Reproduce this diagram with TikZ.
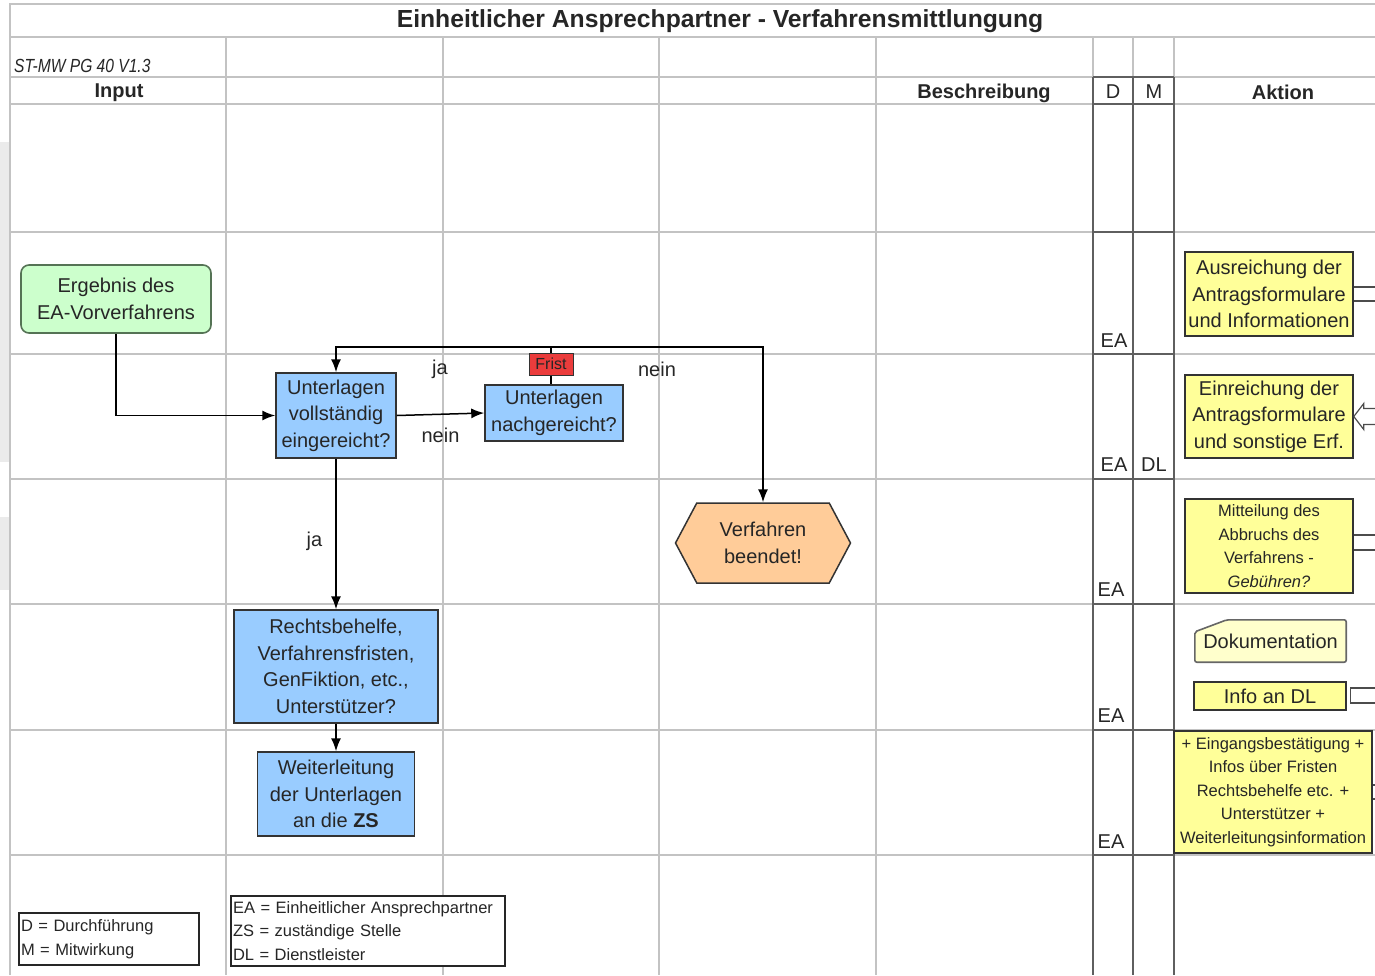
\documentclass[tikz,border=0pt]{standalone}
\usepackage{fontspec}
\setmainfont{Liberation Sans}
\newfontfamily\narrowfont{Liberation Sans}[FakeStretch=0.82]
\usetikzlibrary{arrows.meta,shapes.symbols,backgrounds}

\definecolor{gridgray}{RGB}{195,195,195}
\definecolor{darkline}{RGB}{95,95,95}
\definecolor{boxgreen}{RGB}{204,255,204}
\definecolor{greenline}{RGB}{85,115,85}
\definecolor{boxblue}{RGB}{153,204,255}
\definecolor{boxyellow}{RGB}{255,255,153}
\definecolor{paleyellow}{RGB}{255,255,204}
\definecolor{boxpeach}{RGB}{255,204,153}
\definecolor{fristred}{RGB}{235,60,60}

\newcommand{\normtxt}{\fontsize{20}{26.5}\selectfont}
\newcommand{\smtxt}{\fontsize{16.5}{23.5}\selectfont}

\begin{document}
\begin{tikzpicture}[x=1pt,y=-1pt,
    every node/.style={font=\normtxt, inner sep=2pt, text=black!85},
    grid/.style={gridgray, line width=1.2pt},
    dmline/.style={darkline, line width=1.2pt},
    bluebox/.style={draw=black!80, line width=1.5pt, fill=boxblue, align=center},
    yellowbox/.style={draw=black!80, line width=1.5pt, fill=boxyellow, align=center},
    conn/.style={line width=1.5pt, -{Latex[length=13pt,width=10pt]}},
    plain/.style={line width=1.5pt},
    blk/.style={draw=black!70, line width=1.2pt},
    legend/.style={draw=black!85, line width=1.2pt, fill=white, align=left, font=\smtxt}]
    \useasboundingbox (0,0) rectangle (1375,975);

    % grid of the sheet
    \fill[black!8] (0,142) rectangle (9,462);
    \fill[black!8] (0,517) rectangle (9,590);
    \draw[grid] (10,975) -- (10,4) -- (1375,4);
    \foreach \y in {37,77,104,232,354,479,604,730,855}
        \draw[grid] (10,\y) -- (1375,\y);
    \foreach \x in {226,443,659,876,1093,1133,1174}
        \draw[grid] (\x,37) -- (\x,975);
    \foreach \x in {1093,1133,1174}
        \draw[dmline] (\x,77) -- (\x,975);
    \foreach \y in {77,104,232,354,479,604,730,855}
        \draw[dmline] (1093,\y) -- (1174,\y);

    % header
    \node[font=\fontsize{24.7}{30}\selectfont\bfseries] (title) at (720,21) {Einheitlicher Ansprechpartner - Verfahrensmittlungung};
    \node[anchor=west] (version) at (12,66) {\narrowfont\itshape\fontsize{19}{22}\selectfont ST-MW PG 40 V1.3};
    \node[font=\normtxt\bfseries] (input) at (119,93) {Input};
    \node[font=\normtxt\bfseries] (beschr) at (984,93) {Beschreibung};
    \node (dcol) at (1113,92) {D};
    \node (mcol) at (1154,92) {M};
    \node[font=\normtxt\bfseries] (aktion) at (1283,92) {Aktion};

    % flow
    \node[draw=greenline, line width=1.6pt, fill=boxgreen, rounded corners=8pt, align=center,
        minimum width=190pt, minimum height=68pt] (erg) at (116,299) {Ergebnis des\\EA-Vorverfahrens};
    \node[bluebox, minimum width=120pt, minimum height=85pt] (voll) at (336,415.5) {Unterlagen\\vollständig\\eingereicht?};
    \node[bluebox, minimum width=138pt, minimum height=56pt] (nach) at (554,413) {Unterlagen\\nachgereicht?};
    \node[draw=black!80, line width=1pt, fill=fristred, font=\fontsize{16}{18}\selectfont,
        minimum width=44pt, minimum height=22pt] (frist) at (551,364) {Frist};
    \node[draw=black!80, line width=1.5pt, fill=boxpeach, shape=signal, signal to=west and east,
        signal pointer angle=124, minimum width=175pt, minimum height=80pt, align=center] (ende) at (763,543) {Verfahren\\beendet!};
    \node[bluebox, minimum width=204pt, minimum height=113pt] (recht) at (336,666.5) {Rechtsbehelfe,\\Verfahrensfristen,\\GenFiktion, etc.,\\Unterstützer?};
    \node[bluebox, minimum width=157pt, minimum height=84pt] (weiter) at (336,794) {Weiterleitung\\der Unterlagen\\an die \textbf{ZS}};

    \coordinate (split) at (551,347);
    \draw[conn] (erg.south) |- (voll.west);
    \draw[conn] (voll.east) -- node[below=11pt] (nein1) {nein} (nach.west);
    \draw[plain] (frist.south) -- (frist.south |- nach.north);
    \draw[plain] (frist.north) -- (split);
    \draw[conn] (split) -| (voll.north);
    \draw[conn] (split) -| (ende.north);
    \draw[conn] (voll.south) -- node[left=11pt, pos=0.55] (ja2) {ja} (recht.north);
    \draw[conn] (recht.south) -- (weiter.north);
    \node (ja1) at (440,369) {ja};
    \node (nein2) at (657,369) {nein};

    % actions
    \node[yellowbox, minimum width=168pt, minimum height=84pt] (ausr) at (1269,294) {Ausreichung der\\Antragsformulare\\und Informationen};
    \node[yellowbox, minimum width=168pt, minimum height=83pt] (einr) at (1269,416.5) {Einreichung der\\Antragsformulare\\und sonstige Erf.};
    \node[yellowbox, minimum width=168pt, minimum height=94pt, font=\smtxt] (abbr) at (1269,546) {Mitteilung des\\Abbruchs des\\Verfahrens -\\\textit{Gebühren?}};
    \node[minimum width=151pt, minimum height=42pt] (doku) at (1270.5,641) {Dokumentation};
    \begin{scope}[on background layer]
        \draw[draw=black!60, line width=1.6pt, fill=paleyellow, rounded corners=2pt]
            (doku.south west) -- ([yshift=-12pt]doku.north west) -- ([xshift=32pt]doku.north west)
            -- (doku.north east) -- (doku.south east) -- cycle;
    \end{scope}
    \node[yellowbox, minimum width=152pt, minimum height=28pt] (info) at (1270,696) {Info an DL};
    \node[yellowbox, minimum width=198pt, minimum height=122pt, font=\smtxt] (best) at (1273,792) {+ Eingangsbestätigung +\\Infos über Fristen\\Rechtsbehelfe etc. +\\Unterstützer +\\Weiterleitungsinformation};

    \draw[blk] ([yshift=7pt]ausr.east) -- ++(24,0) ([yshift=-7pt]ausr.east) -- ++(24,0);
    \draw[blk] (einr.east) -- ++(10,-13) -- ++(0,5) -- ++(14,0);
    \draw[blk] (einr.east) -- ++(10,13) -- ++(0,-5) -- ++(14,0);
    \draw[blk] ([yshift=11pt]abbr.east) -- ++(24,0) ([yshift=-4pt]abbr.east) -- ++(24,0);
    \draw[blk] ([xshift=4pt,yshift=8pt]info.east) ++(26,0) -- ++(-26,0) -- ++(0,15) -- ++(26,0);
    \draw[blk] ([yshift=7pt]best.east) -- ++(5,0) ([yshift=-7pt]best.east) -- ++(5,0);

    % D / M
    \node (ea1) at (1114,341) {EA};
    \node (ea2) at (1114,465) {EA};
    \node (dl2) at (1154,465) {DL};
    \node (ea3) at (1111,590) {EA};
    \node (ea4) at (1111,716) {EA};
    \node (ea5) at (1111,842) {EA};

    % legend
    \node[legend, text width=176pt, minimum height=52pt] (legdm) at (109,939) {D = Durchführung\\M = Mitwirkung};
    \node[legend, text width=270pt, minimum height=70pt] (legabk) at (368,931) {EA = Einheitlicher Ansprechpartner\\ZS = zuständige Stelle\\DL = Dienstleister};
\end{tikzpicture}
\end{document}
